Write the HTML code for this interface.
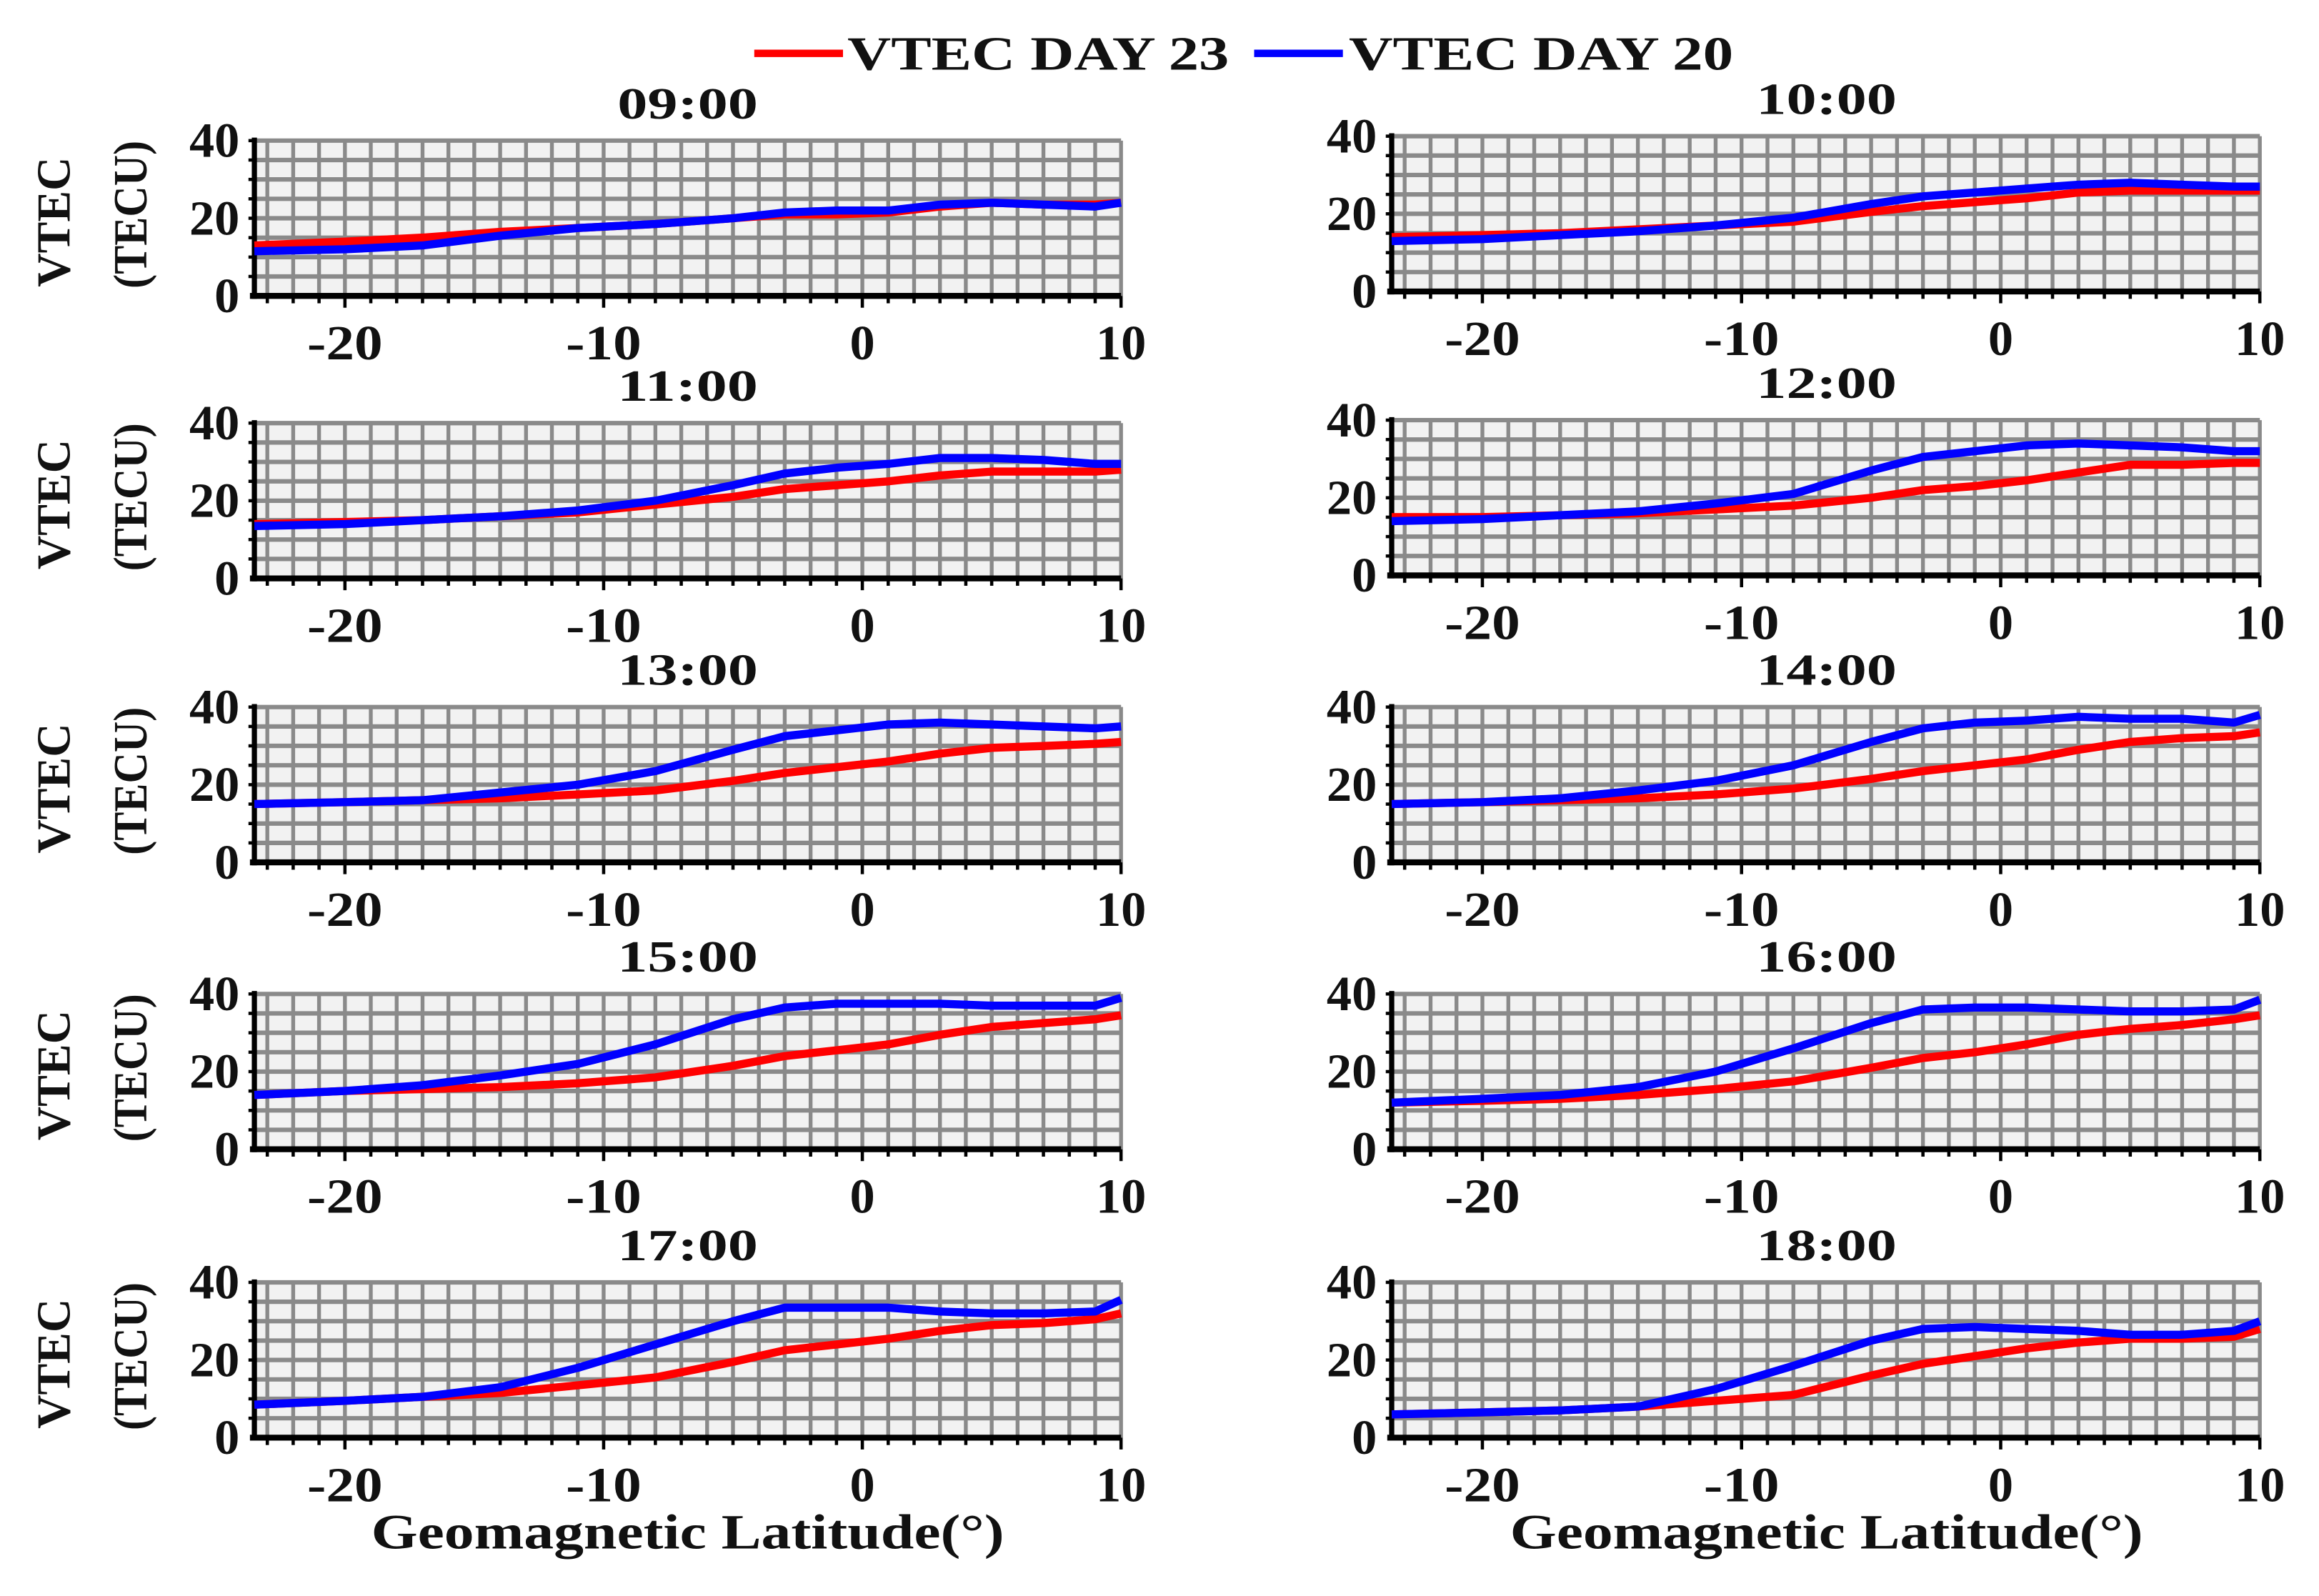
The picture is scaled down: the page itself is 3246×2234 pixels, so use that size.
<!DOCTYPE html>
<html><head><meta charset="utf-8"><style>
html,body{margin:0;padding:0;background:#fff}
svg{display:block}
text{font-family:"Liberation Serif",serif;font-weight:bold;fill:#111}
</style></head><body>
<svg id="fig" width="3246" height="2234" viewBox="0 0 1568 1079" xmlns="http://www.w3.org/2000/svg">
<g>
<line x1="510" y1="36" x2="570" y2="36" stroke="#f00" stroke-width="5"/>
<text x="573" y="47" font-size="32" textLength="258" lengthAdjust="spacingAndGlyphs">VTEC DAY 23</text>
<line x1="848" y1="36" x2="908" y2="36" stroke="#00f" stroke-width="5"/>
<text x="912" y="47" font-size="32" textLength="260" lengthAdjust="spacingAndGlyphs">VTEC DAY 20</text>
</g>
</svg>
<script>
const xs=[-23.5,-20,-17,-14,-11,-8,-5,-3,-1,1,3,5,7,9,10];
const titles=["09:00","10:00","11:00","12:00","13:00","14:00","15:00","16:00","17:00","18:00"];
const day23=[
[13,14,15,16.5,17.5,18.5,20,21,21,21.5,23,24,23.5,23.5,24],
[14,14.5,15,16,17,18,20.5,22,23,24,25.5,26,26,26,26],
[14,14.5,15,16,17,19,21,23,24,25,26.5,27.5,27.5,27.5,28],
[15,15,15.5,16,17,18,20,22,23,24.5,26.5,28.5,28.5,29,29],
[15,15.5,16,16.5,17.5,18.5,21,23,24.5,26,28,29.5,30,30.5,31],
[15,15.5,16,16.5,17.5,19,21.5,23.5,25,26.5,29,31,32,32.5,33.5],
[14,15,15.5,16,17,18.5,21.5,24,25.5,27,29.5,31.5,32.5,33.5,34.5],
[12,12.5,13,14,15.5,17.5,21,23.5,25,27,29.5,31,32,33.5,34.5],
[8.5,9.5,10.5,11.5,13.5,15.5,19.5,22.5,24,25.5,27.5,29,29.5,30.5,32],
[6,6.5,7,8,9.5,11,16,19,21,23,24.5,25.5,25.5,26,28]];
const day20=[
[11.5,12,13,15.5,17.5,18.5,20,21.5,22,22,23.5,24,23.5,23,24],
[13,13.5,14.5,15.5,17,19,22.5,24.5,25.5,26.5,27.5,28,27.5,27,27],
[13.5,14,15,16,17.5,20,24,27,28.5,29.5,31,31,30.5,29.5,29.5],
[14,14.5,15.5,16.5,18.5,21,27,30.5,32,33.5,34,33.5,33,32,32],
[15,15.5,16,18,20,23.5,29,32.5,34,35.5,36,35.5,35,34.5,35],
[15,15.5,16.5,18.5,21,25,31,34.5,36,36.5,37.5,37,37,36,38],
[14,15,16.5,19,22,27,33.5,36.5,37.5,37.5,37.5,37,37,37,39],
[12,13,14,16,20,26,32.5,36,36.5,36.5,36,35.5,35.5,36,38.5],
[8.5,9.5,10.5,13,18,24,30,33.5,33.5,33.5,32.5,32,32,32.5,35.5],
[6,6.5,7,8,12.5,18.5,25,28,28.5,28,27.5,26.5,26.5,27.5,30]];
const xTicks=[-20,-10,0,10];
const yTicks=[0,20,40];

const NS="http://www.w3.org/2000/svg";
const svg=document.getElementById('fig');
function mk(tag,attrs,parent){const e=document.createElementNS(NS,tag);for(const k in attrs)e.setAttribute(k,attrs[k]);(parent||svg).appendChild(e);return e;}
const XMIN=-23.5,XMAX=10;
const layout=[{x0:172,x1:758},{x0:941,x1:1528}];
const topsL=[95,286,478,672,867], topsR=[92,284,478,672,867];
for(let i=0;i<10;i++){
  const col=i%2,row=Math.floor(i/2);
  const x0=layout[col].x0,x1=layout[col].x1;
  const yT=col?topsR[row]:topsL[row], yB=yT+105;
  const sx=v=>x0+(v-XMIN)/(XMAX-XMIN)*(x1-x0);
  const sy=v=>yB-v/40*(yB-yT);
  const g=mk('g',{});
  
  
  const bg=mk('rect',{x:x0,y:yT,width:x1-x0,height:yB-yT,fill:'#f2f2f2'},g);
  
  
  for(let v=-23;v<=10;v++){const l=mk('line',{x1:sx(v),x2:sx(v),y1:yT,y2:yB,stroke:'#8a8a8a','stroke-width':2.6},g);
    }
  for(let v=5;v<=40;v+=5){const l=mk('line',{x1:x0,x2:x1,y1:sy(v),y2:sy(v),stroke:'#8a8a8a','stroke-width':3},g);
    }
  const ya=mk('line',{x1:x0,x2:x0,y1:yT-2,y2:yB+2,stroke:'#000','stroke-width':3.5},g);
  
  const xa=mk('line',{x1:x0-3,x2:x1,y1:yB,y2:yB,stroke:'#000','stroke-width':4},g);
  
  for(let v=-23;v<=10;v++){const t=mk('line',{x1:sx(v),x2:sx(v),y1:yB,y2:yB+(v%10===0?8:5),stroke:'#000','stroke-width':2.2},g);
    }
  for(let v=5;v<=40;v+=5){const t=mk('line',{x1:x0-4,x2:x0,y1:sy(v),y2:sy(v),stroke:'#000','stroke-width':2.2},g);
    }
  xTicks.forEach(v=>{const s=String(v);const t=mk('text',{x:sx(v),y:yB+43,'font-size':33,'text-anchor':'middle',textLength:s.length*17,lengthAdjust:'spacingAndGlyphs'},g);t.textContent=s;
    });
  yTicks.forEach(v=>{const s=String(v);const t=mk('text',{x:x0-10,y:sy(v)+11,'font-size':33,'text-anchor':'end',textLength:s.length*17,lengthAdjust:'spacingAndGlyphs'},g);t.textContent=s;
    });
  const tt=mk('text',{x:col?1235:465,y:yT-15,'font-size':30,'text-anchor':'middle',textLength:95,lengthAdjust:'spacingAndGlyphs'},g);tt.textContent=titles[i];
  
  if(col===0){
    const a=mk('text',{transform:`translate(47 ${yT+55}) rotate(-90)`,'font-size':32,'text-anchor':'middle',textLength:88,lengthAdjust:'spacingAndGlyphs'},g);a.textContent='VTEC';
    
    const b=mk('text',{transform:`translate(99 ${yT+50}) rotate(-90)`,'font-size':32,'text-anchor':'middle',textLength:100,lengthAdjust:'spacingAndGlyphs'},g);b.textContent='(TECU)';
    
  }
  if(row===4){
    const xl=mk('text',{x:col?1235:465,y:1047,'font-size':33,'text-anchor':'middle',textLength:428,lengthAdjust:'spacingAndGlyphs'},g);xl.textContent='Geomagnetic Latitude(°)';
    
  }
  const p23=xs.map((v,k)=>sx(v).toFixed(1)+','+sy(day23[i][k]).toFixed(1)).join(' ');
  const l23=mk('polyline',{points:p23,fill:'none',stroke:'#f00','stroke-width':5.5,'stroke-linejoin':'round'},g);
  
  const p20=xs.map((v,k)=>sx(v).toFixed(1)+','+sy(day20[i][k]).toFixed(1)).join(' ');
  const l20=mk('polyline',{points:p20,fill:'none',stroke:'#00f','stroke-width':5.5,'stroke-linejoin':'round'},g);
  
}
</script>
</body></html>
